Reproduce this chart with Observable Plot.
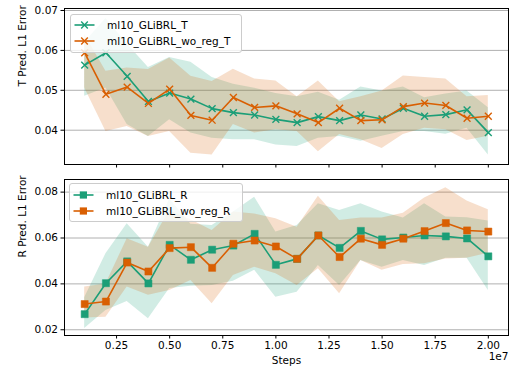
<!DOCTYPE html>
<html><head><meta charset="utf-8">
<script src="https://cdn.jsdelivr.net/npm/d3@7"></script>
<script src="https://cdn.jsdelivr.net/npm/@observablehq/plot@0.6"></script>
<style>
body{margin:0;background:#fff;font-family:"DejaVu Sans",sans-serif;}
#wrap{position:relative;width:510px;height:371px;overflow:hidden;background:#fff}
#top,#bot{position:absolute;left:0}
#top{top:0}#bot{top:175px}
.legend{position:absolute;background:rgba(255,255,255,0.8);border:1px solid #cccccc;border-radius:3px;box-sizing:border-box;font-size:10.5px;color:#000}
.legend svg{position:absolute;left:3px}
.legend span{position:absolute;left:36px;white-space:nowrap;line-height:12px}
</style></head>
<body>
<div id="wrap"><div id="top"></div><div id="bot"></div></div>
<script>
const steps = [1000000, 2000000, 3000000, 4000000, 5000000, 6000000, 7000000, 8000000, 9000000, 10000000,
  11000000, 12000000, 13000000, 14000000, 15000000, 16000000, 17000000, 18000000, 19000000, 20000000];
const xTicks = [2500000, 5000000, 7500000, 10000000, 12500000, 15000000, 17500000, 20000000];

const seriesT = ["ml10_GLiBRL_T", "ml10_GLiBRL_wo_reg_T"];
const seriesR = ["ml10_GLiBRL_R", "ml10_GLiBRL_wo_reg_R"];

// T prediction error
const tGreen   = [0.0563, 0.0594, 0.0535, 0.0472, 0.0493, 0.0478, 0.0454, 0.0444, 0.0438, 0.0427, 0.0419, 0.0434, 0.0424, 0.0438, 0.0428, 0.0455, 0.0435, 0.0439, 0.0451, 0.0394];
const tGreenHi = [0.0620, 0.0680, 0.0616, 0.0557, 0.0582, 0.0570, 0.0532, 0.0515, 0.0505, 0.0492, 0.0484, 0.0495, 0.0475, 0.0508, 0.0498, 0.0508, 0.0481, 0.0491, 0.0498, 0.0456];
const tGreenLo = [0.0485, 0.0506, 0.0414, 0.0384, 0.0426, 0.0393, 0.0380, 0.0376, 0.0376, 0.0363, 0.0359, 0.0380, 0.0384, 0.0372, 0.0385, 0.0397, 0.0397, 0.0390, 0.0405, 0.0338];
const tOrange   = [0.0594, 0.0490, 0.0508, 0.0467, 0.0503, 0.0437, 0.0425, 0.0482, 0.0457, 0.0461, 0.0441, 0.0419, 0.0455, 0.0424, 0.0426, 0.0459, 0.0468, 0.0462, 0.0430, 0.0435];
const tOrangeHi = [0.0640, 0.0548, 0.0556, 0.0552, 0.0581, 0.0535, 0.0522, 0.0553, 0.0528, 0.0523, 0.0484, 0.0523, 0.0471, 0.0484, 0.0498, 0.0536, 0.0532, 0.0528, 0.0484, 0.0487];
const tOrangeLo = [0.0506, 0.0397, 0.0409, 0.0384, 0.0397, 0.0342, 0.0338, 0.0414, 0.0393, 0.0401, 0.0397, 0.0346, 0.0389, 0.0376, 0.0354, 0.0389, 0.0405, 0.0401, 0.0374, 0.0385];

// R prediction error
const rGreen   = [0.0268, 0.0403, 0.0498, 0.0402, 0.0570, 0.0505, 0.0549, 0.0567, 0.0618, 0.0483, 0.0509, 0.0611, 0.0557, 0.0631, 0.0594, 0.0602, 0.0611, 0.0607, 0.0598, 0.0520];
const rGreenHi = [0.0340, 0.0531, 0.0662, 0.0560, 0.0770, 0.0660, 0.0655, 0.0713, 0.0778, 0.0626, 0.0655, 0.0749, 0.0720, 0.0749, 0.0713, 0.0687, 0.0749, 0.0691, 0.0688, 0.0674];
const rGreenLo = [0.0205, 0.0284, 0.0323, 0.0248, 0.0380, 0.0390, 0.0393, 0.0411, 0.0459, 0.0342, 0.0364, 0.0480, 0.0393, 0.0502, 0.0473, 0.0502, 0.0480, 0.0512, 0.0512, 0.0371];
const rOrange   = [0.0312, 0.0323, 0.0493, 0.0454, 0.0556, 0.0560, 0.0470, 0.0575, 0.0589, 0.0563, 0.0509, 0.0611, 0.0517, 0.0597, 0.0570, 0.0597, 0.0630, 0.0665, 0.0633, 0.0628];
const rOrangeHi = [0.0386, 0.0400, 0.0597, 0.0560, 0.0720, 0.0680, 0.0633, 0.0713, 0.0705, 0.0684, 0.0647, 0.0782, 0.0676, 0.0687, 0.0687, 0.0708, 0.0774, 0.0819, 0.0761, 0.0723];
const rOrangeLo = [0.0251, 0.0255, 0.0386, 0.0350, 0.0371, 0.0415, 0.0313, 0.0437, 0.0473, 0.0444, 0.0393, 0.0466, 0.0357, 0.0502, 0.0459, 0.0485, 0.0488, 0.0509, 0.0512, 0.0534];

const GREEN = "#1b9e77", ORANGE = "#d95f02";
const FONT = "DejaVu Sans";

function table(g, gLo, gHi, o, oLo, oHi) {
  return steps.map((s, i) => ({step: s, g: g[i], gLo: gLo[i], gHi: gHi[i], o: o[i], oLo: oLo[i], oHi: oHi[i]}));
}

function panel(o) {
  const rows = o.rows;
  const dot = (key, color) => o.symbol === "square"
    ? Plot.dot(rows, {x: "step", y: key, symbol: "square", r: 4.0, fill: color, stroke: color, strokeWidth: 0.5})
    : Plot.dot(rows, {x: "step", y: key, symbol: "times", r: 3.2, stroke: color, strokeWidth: 1.4});
  const marks = [
    Plot.gridY(o.yTicks, {stroke: "#b0b0b0", strokeOpacity: 1, strokeWidth: 1}),
    Plot.areaY(rows, {x: "step", y1: "gLo", y2: "gHi", fill: GREEN, fillOpacity: 0.2}),
    Plot.areaY(rows, {x: "step", y1: "oLo", y2: "oHi", fill: ORANGE, fillOpacity: 0.2}),
    Plot.line(rows, {x: "step", y: "g", stroke: GREEN, strokeWidth: 1.6}),
    dot("g", GREEN),
    Plot.line(rows, {x: "step", y: "o", stroke: ORANGE, strokeWidth: 1.6}),
    dot("o", ORANGE),
    Plot.axisY(o.yTicks, {tickSize: 3.5, tickPadding: 3, tickFormat: d => d.toFixed(2), label: null, fontSize: 10.5}),
    Plot.axisX(xTicks, {tickSize: 3.5, tickPadding: 3, tickFormat: o.xLabels ? (d => (d / 1e7).toFixed(2)) : (() => ""), label: null, fontSize: 10.5}),
    Plot.frame({stroke: "black", strokeWidth: 1}),
    Plot.text([o.ylabel], {text: d => d, frameAnchor: "left", rotate: -90, dx: -42, fontSize: 10.5})
  ];
  if (o.xLabels) {
    marks.push(Plot.text(["Steps"], {text: d => d, frameAnchor: "bottom", dy: 28, fontSize: 10.5}));
    marks.push(Plot.text(["1e7"], {text: d => d, frameAnchor: "bottom-right", textAnchor: "end", dy: 24.5, dx: 0, fontSize: 10.5}));
  }
  return Plot.plot({
    width: 510, height: o.height,
    marginLeft: 64, marginRight: 2, marginTop: o.marginTop, marginBottom: o.marginBottom,
    style: {fontFamily: FONT, fontSize: "10.5px", color: "black", background: "transparent", overflow: "visible"},
    x: {domain: [50000, 20950000]},
    y: {domain: o.yDomain},
    marks
  });
}

function legend(parent, left, top, width, height, names, rowsY, symbol) {
  const box = document.createElement("div");
  box.className = "legend";
  Object.assign(box.style, {left: left + "px", top: top + "px", width: width + "px", height: height + "px"});
  [GREEN, ORANGE].forEach((c, i) => {
    const marker = symbol === "square"
      ? `<rect x="6.8" y="2.4" width="7.2" height="7.2" fill="${c}"/>`
      : `<path d="M7.2,2.6L13.8,9.4M7.2,9.4L13.8,2.6" stroke="${c}" stroke-width="1.4" fill="none"/>`;
    const s = document.createElementNS("http://www.w3.org/2000/svg", "svg");
    s.setAttribute("width", 21); s.setAttribute("height", 12);
    s.style.top = (rowsY[i] - 6) + "px";
    s.innerHTML = `<line x1="0.5" y1="6" x2="20.5" y2="6" stroke="${c}" stroke-width="1.6"/>` + marker;
    box.appendChild(s);
    const t = document.createElement("span");
    t.textContent = names[i];
    t.style.top = (rowsY[i] - 6) + "px";
    box.appendChild(t);
  });
  parent.appendChild(box);
}

const wrap = document.getElementById("wrap");
document.getElementById("top").appendChild(panel({
  rows: table(tGreen, tGreenLo, tGreenHi, tOrange, tOrangeLo, tOrangeHi),
  yDomain: [0.0314, 0.0705], yTicks: [0.04, 0.05, 0.06, 0.07],
  symbol: "times", xLabels: false, height: 175, marginTop: 8, marginBottom: 11,
  ylabel: "T Pred. L1 Error"
}));
document.getElementById("bot").appendChild(panel({
  rows: table(rGreen, rGreenLo, rGreenHi, rOrange, rOrangeLo, rOrangeHi),
  yDomain: [0.0175, 0.0855], yTicks: [0.02, 0.04, 0.06, 0.08],
  symbol: "square", xLabels: true, height: 196, marginTop: 4, marginBottom: 36,
  ylabel: "R Pred. L1 Error"
}));
legend(wrap, 70, 14, 172, 39, seriesT, [10, 26], "times");
legend(wrap, 69, 183, 174, 39, seriesR, [11, 27], "square");
</script>
</body></html>
